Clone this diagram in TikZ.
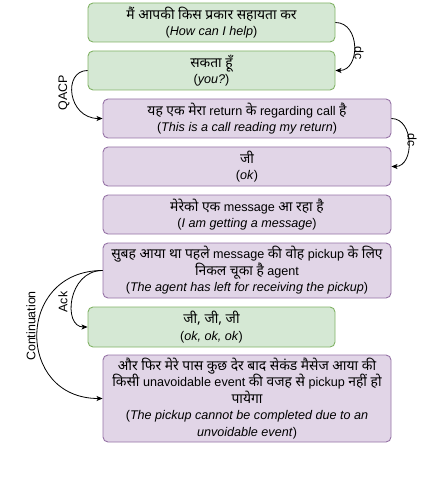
\documentclass[tikz,border=0pt]{standalone}
\usepackage{fontspec}
\setmainfont{Liberation Sans}
\newfontfamily\hi[Script=Devanagari,Scale=1.1]{Noto Sans}
\usetikzlibrary{arrows.meta}
\definecolor{gfill}{HTML}{D5E8D4}
\definecolor{gdraw}{HTML}{82B366}
\definecolor{pfill}{HTML}{E1D5E7}
\definecolor{pdraw}{HTML}{9673A6}
\newcommand\boxfont{\fontsize{12.6}{16.5}\selectfont\lineskiplimit -20pt\relax}
\begin{document}
\begin{tikzpicture}[x=1pt,y=1pt,
  box/.style={rounded corners=5pt, line width=0.9pt, align=center, inner sep=0pt,
    font=\boxfont},
  gbox/.style={box, fill=gfill, draw=gdraw, minimum width=247pt, minimum height=39pt},
  pbox/.style={box, fill=pfill, draw=pdraw, minimum width=288pt, minimum height=39pt},
  lbl/.style={font=\fontsize{12.4}{13}\selectfont, inner sep=0pt},
  arr/.style={-{Stealth[length=6pt,width=5pt,inset=1.5pt]}, line width=0.8pt}
]
\useasboundingbox (0,0) rectangle (420,-478);
\node[gbox] (b1) at (211.5,-22.5) {{\hi मैं आपकी किस प्रकार सहायता कर}\\(\textit{How can I help})};
\node[gbox] (b2) at (211.5,-70.5) {{\hi सकता हूँ}\\(\textit{you?})};
\node[pbox] (b3) at (247,-118.5) {{\hi यह एक मेरा} return {\hi के} regarding call {\hi है}\\(\textit{This is a call reading my return})};
\node[pbox] (b4) at (247,-166.5) {{\hi जी}\\(\textit{ok})};
\node[pbox] (b5) at (247,-214.5) {{\hi मेरेको एक} message {\hi आ रहा है}\\(\textit{I am getting a message})};
\node[pbox, minimum height=55pt] (b6) at (247,-270.5) {{\hi सुबह आया था पहले} message {\hi की वोह} pickup {\hi के लिए}\\{\hi निकल चूका है} agent\\(\textit{The agent has left for receiving the pickup})};
\node[gbox, minimum height=40pt] (b7) at (211.5,-327) {{\hi जी, जी, जी}\\(\textit{ok, ok, ok})};
\node[pbox, minimum height=87pt] (b8) at (247,-398.5) {{\hi और फिर मेरे पास कुछ देर बाद सेकंड मैसेज आया की}\\{\hi किसी} unavoidable event {\hi की वजह से} pickup {\hi नहीं हो}\\{\hi पायेगा}\\(\textit{The pickup cannot be completed due to an}\\\textit{unvoidable event})};

\draw[arr] (b1.east) to[out=0,in=0,distance=25pt] (b2.east);
\draw[arr] (b3.east) to[out=0,in=0,distance=23pt] (b4.east);
\draw[arr] (b2.west) to[out=180,in=180,out distance=25pt,in distance=35pt] (b3.west);
\draw[arr] (b6.west) to[out=180,in=180,out distance=35pt,in distance=25pt] (b7.west);
\draw[arr] (b6.west) to[out=180,in=180,distance=87pt] (b8.west);

\node[lbl, rotate=-90] (ldc1) at (359,-53) {dc};
\node[lbl, rotate=-90] (ldc2) at (412,-140) {dc};
\node[lbl, rotate=90] (lqacp) at (64,-93) {QACP};
\node[lbl, rotate=90] (lack) at (63,-302) {Ack};
\node[lbl, rotate=90] (lcont) at (31,-326) {Continuation};
\end{tikzpicture}
\end{document}
